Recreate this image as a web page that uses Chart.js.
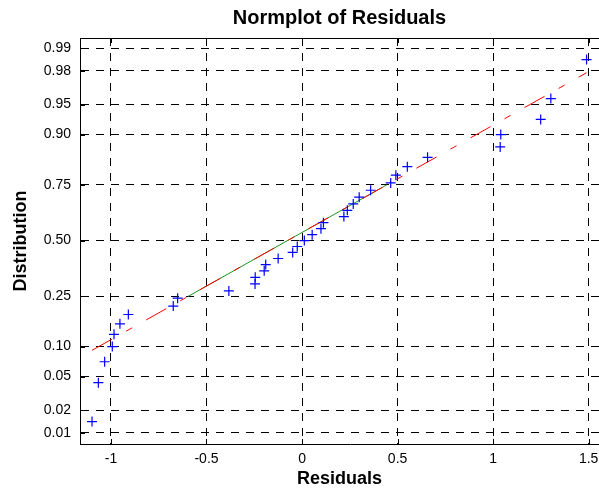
<!DOCTYPE html>
<html>
<head>
<meta charset="utf-8">
<title>Normplot of Residuals</title>
<script src="https://cdn.jsdelivr.net/npm/chart.js@4.4.0/dist/chart.umd.min.js"></script>
<style>
  html, body { margin: 0; padding: 0; background: #fff; overflow: hidden; }
  #wrap { width: 599px; height: 489px; overflow: hidden; }
</style>
</head>
<body>
<div id="wrap"><canvas id="normplot" width="620" height="489"></canvas></div>
<script>
// sorted residuals
const residuals = [-1.099, -1.066, -1.033, -0.993, -0.984, -0.953, -0.909, -0.674, -0.651, -0.383,
  -0.246, -0.245, -0.198, -0.190, -0.125, -0.049, -0.025, 0.012, 0.053, 0.099,
  0.112, 0.219, 0.237, 0.268, 0.299, 0.359, 0.464, 0.491, 0.551, 0.657,
  1.037, 1.040, 1.249, 1.302, 1.489];
// probability of each point (y position)
const probs = [0.0143, 0.0429, 0.0714, 0.1000, 0.1286, 0.1571, 0.1857, 0.2143, 0.2429, 0.2714,
  0.3000, 0.3286, 0.3571, 0.3857, 0.4143, 0.4429, 0.4714, 0.5000, 0.5286, 0.5571,
  0.5857, 0.6143, 0.6429, 0.6714, 0.7000, 0.7286, 0.7571, 0.7857, 0.8143, 0.8429,
  0.8714, 0.9000, 0.9286, 0.9571, 0.9857];
// fitted line through the quartiles
const quartileX = [-0.596, 0.444];
const quartileP = [0.25, 0.75];

const probTicks = [0.01, 0.02, 0.05, 0.10, 0.25, 0.50, 0.75, 0.90, 0.95, 0.98, 0.99];
const probLabels = ['0.01', '0.02', '0.05', '0.10', '0.25', '0.50', '0.75', '0.90', '0.95', '0.98', '0.99'];
const xTicks = [-1, -0.5, 0, 0.5, 1, 1.5];
const xLabels = ['-1', '-0.5', '0', '0.5', '1', '1.5'];

const chartTitle = 'Normplot of Residuals';
const xTitle = 'Residuals';
const yTitle = 'Distribution';

const FONT = '"Liberation Sans", Arial, sans-serif';

// inverse normal cdf (Acklam)
function norminv(p) {
  const a = [-3.969683028665376e+01, 2.209460984245205e+02, -2.759285104469687e+02, 1.383577518672690e+02, -3.066479806614716e+01, 2.506628277459239e+00];
  const b = [-5.447609879822406e+01, 1.615858368580409e+02, -1.556989798598866e+02, 6.680131188771972e+01, -1.328068155288572e+01];
  const c = [-7.784894002430293e-03, -3.223964580411365e-01, -2.400758277161838e+00, -2.549732539343734e+00, 4.374664141464968e+00, 2.938163982698783e+00];
  const d = [7.784695709041462e-03, 3.224671290700398e-01, 2.445134137142996e+00, 3.754408661907416e+00];
  const plow = 0.02425;
  let q, r;
  if (p < plow) {
    q = Math.sqrt(-2 * Math.log(p));
    return (((((c[0]*q+c[1])*q+c[2])*q+c[3])*q+c[4])*q+c[5]) / ((((d[0]*q+d[1])*q+d[2])*q+d[3])*q+1);
  }
  if (p > 1 - plow) {
    q = Math.sqrt(-2 * Math.log(1 - p));
    return -(((((c[0]*q+c[1])*q+c[2])*q+c[3])*q+c[4])*q+c[5]) / ((((d[0]*q+d[1])*q+d[2])*q+d[3])*q+1);
  }
  q = p - 0.5; r = q * q;
  return (((((a[0]*r+a[1])*r+a[2])*r+a[3])*r+a[4])*r+a[5])*q / (((((b[0]*r+b[1])*r+b[2])*r+b[3])*r+b[4])*r+1);
}

const points = residuals.map((x, i) => ({x: x, y: norminv(probs[i])}));

const z1 = norminv(quartileP[0]), z2 = norminv(quartileP[1]);
const slope = (z2 - z1) / (quartileX[1] - quartileX[0]);
const lineAt = (x) => z1 + (x - quartileX[0]) * slope;
const xMin = residuals[0], xMax = residuals[residuals.length - 1];

// box, inward ticks and the title, MATLAB style
const boxAndTicks = {
  id: 'boxAndTicks',
  afterDraw(chart) {
    const {ctx, chartArea: a, scales} = chart;
    ctx.save();
    ctx.strokeStyle = '#000';
    ctx.lineWidth = 1;
    ctx.setLineDash([]);
    ctx.beginPath();
    const top = Math.round(a.top) + 0.5;
    ctx.moveTo(a.left, top);
    ctx.lineTo(a.right, top);
    scales.y.ticks.forEach(t => {
      const y = Math.round(scales.y.getPixelForValue(t.value)) + 0.5;
      ctx.moveTo(a.left, y);
      ctx.lineTo(a.left + 5, y);
    });
    scales.x.ticks.forEach(t => {
      const x = Math.round(scales.x.getPixelForValue(t.value)) + 0.5;
      ctx.moveTo(x, a.bottom);
      ctx.lineTo(x, a.bottom - 5);
      ctx.moveTo(x, a.top);
      ctx.lineTo(x, a.top + 5);
    });
    ctx.stroke();
    ctx.fillStyle = '#000';
    ctx.font = 'bold 20px ' + FONT;
    ctx.textAlign = 'center';
    ctx.textBaseline = 'middle';
    // centred on the part of the axes that shows in the 599px window
    ctx.fillText(chartTitle, (a.left + 599) / 2, 18);
    ctx.font = 'bold 18px ' + FONT;
    ctx.fillText(xTitle, (a.left + 599) / 2, 479);
    ctx.restore();
  }
};

new Chart(document.getElementById('normplot'), {
  type: 'scatter',
  data: {
    datasets: [
      {
        label: 'residuals',
        data: points,
        pointStyle: 'cross',
        pointRadius: 5,
        pointBorderWidth: 1.2,
        borderColor: '#0000ff',
        backgroundColor: '#0000ff',
        showLine: false,
        order: 0
      },
      {
        label: 'extended fit',
        data: [{x: xMin, y: lineAt(xMin)}, {x: xMax, y: lineAt(xMax)}],
        showLine: true,
        borderColor: '#ff0000',
        borderWidth: 1,
        borderDash: [23, 16, 7, 16],
        pointRadius: 0,
        order: 1
      },
      {
        label: 'quartile fit',
        data: [{x: quartileX[0], y: z1}, {x: quartileX[1], y: z2}],
        showLine: true,
        borderColor: '#1a961a',
        borderWidth: 1,
        pointRadius: 0,
        order: 2
      }
    ]
  },
  options: {
    responsive: false,
    animation: false,
    devicePixelRatio: 1,
    layout: { autoPadding: false, padding: { top: 38, left: 0, right: 0, bottom: 0 } },
    plugins: {
      legend: { display: false },
      tooltip: { enabled: false },
      title: { display: false }
    },
    scales: {
      x: {
        type: 'linear',
        min: -1.162,
        max: 1.664,
        afterBuildTicks: (scale) => { scale.ticks = xTicks.map(v => ({value: v})); },
        afterFit: (scale) => { scale.height = 45; },
        ticks: {
          callback: (v, i) => xLabels[i],
          color: '#000',
          font: { family: FONT, size: 14 },
          padding: 7,
          maxRotation: 0
        },
        grid: { color: '#000', lineWidth: 1, drawTicks: false },
        border: { display: true, color: '#000', width: 1, dash: [8, 7] }
      },
      y: {
        type: 'linear',
        min: -2.46,
        max: 2.45,
        afterBuildTicks: (scale) => { scale.ticks = probTicks.map(p => ({value: norminv(p)})); },
        afterFit: (scale) => { scale.width = 80; scale.paddingTop = 0; scale.paddingBottom = 0; },
        ticks: {
          callback: (v, i) => probLabels[i],
          color: '#000',
          font: { family: FONT, size: 14 },
          padding: 9
        },
        grid: { color: '#000', lineWidth: 1, drawTicks: false },
        border: { display: true, color: '#000', width: 1, dash: [8, 7] },
        title: {
          display: true,
          text: yTitle,
          color: '#000',
          font: { family: FONT, size: 18, weight: 'bold' },
          padding: { top: 10, bottom: 0 }
        }
      }
    }
  },
  plugins: [boxAndTicks]
});
</script>
</body>
</html>
